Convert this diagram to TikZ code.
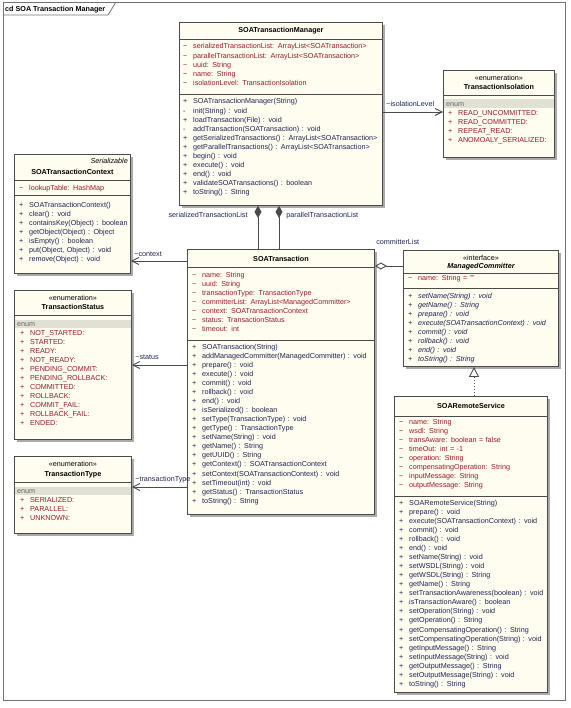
\documentclass[tikz,border=0pt]{standalone}
\usepackage{fontspec}
\setmainfont{Liberation Sans}
\usetikzlibrary{arrows.meta,shadows}
\definecolor{boxfill}{RGB}{255,252,240}
\definecolor{boxline}{RGB}{75,75,75}
\definecolor{attrred}{RGB}{150,28,40}
\definecolor{opblue}{RGB}{28,36,82}
\definecolor{shadowgray}{RGB}{170,170,170}
\definecolor{enumband}{RGB}{224,224,212}
\definecolor{framegray}{RGB}{115,115,115}
\newcommand\atr{\makebox[10pt][l]{\textasciitilde}}
\newcommand\pub{\makebox[10pt][l]{+}}
\newcommand\prv{\makebox[10pt][l]{-}}
\tikzset{
    cls/.style={draw=boxline, fill=boxfill, line width=0.9pt, anchor=north west, inner sep=0pt,
        drop shadow={shadow xshift=2.5pt, shadow yshift=-2.5pt, fill=shadowgray, opacity=1}},
    div/.style={draw=boxline, line width=0.9pt},
    band/.style={fill=enumband},
    frame/.style={draw=framegray, line width=0.8pt},
    mem/.style={anchor=base west, inner sep=0pt, text width=230pt, align=left, font=\fontsize{7.2}{9.05}\selectfont},
    attrs/.style={mem, text=attrred},
    ops/.style={mem, text=opblue},
    iops/.style={ops, font=\fontsize{7.2}{9.05}\selectfont\itshape},
    enm/.style={mem, text=black!60},
    ttl/.style={anchor=base, inner sep=0pt, font=\fontsize{7.2}{9}\selectfont\bfseries},
    ster/.style={anchor=base, inner sep=0pt, font=\fontsize{7.2}{9}\selectfont},
    lbl/.style={inner sep=0pt, font=\fontsize{7.2}{9}\selectfont, text=opblue},
    assoc/.style={draw=boxline, line width=0.9pt, -{Straight Barb[length=7pt,width=7pt]}},
    comp/.style={draw=boxline, line width=0.9pt, -{Diamond[length=12pt,width=7pt,fill=boxline]}},
    aggr/.style={draw=boxline, line width=0.9pt, {Diamond[open,length=12pt,width=7pt]}-},
    real/.style={draw=boxline, line width=0.9pt, dash pattern=on 1pt off 2pt, -{Triangle[open,length=10pt,width=10pt]}}
}
\begin{document}
\begin{tikzpicture}[x=1pt, y=-1pt]
    \useasboundingbox (0,0) rectangle (570,708);
    % frame
    \draw[frame] (3,2) rectangle (565,700);
    \draw[frame] (3,15) -- (108,15) -- (116,2);
    \node[ttl, anchor=base west] (frame-name) at (5,12) {cd SOA Transaction Manager};

    % SOATransactionManager
    \node[cls, minimum width=203pt, minimum height=183pt] (tm) at (179,22) {};
    \node[ttl] (tm-name) at (tm.north |- 0,33) {SOATransactionManager};
    \draw[div] (tm.west |- 0,39) -- (tm.east |- 0,39);
    \node[attrs] (tm-attr) at (183,49) {\atr serializedTransactionList: ArrayList<SOATransaction>\\
        \atr parallelTransactionList: ArrayList<SOATransaction>\\
        \atr uuid: String\\
        \atr name: String\\
        \atr isolationLevel: TransactionIsolation};
    \draw[div] (tm.west |- 0,94) -- (tm.east |- 0,94);
    \node[ops] (tm-ops) at (183,104) {\pub SOATransactionManager(String)\\
        \prv init(String) : void\\
        \pub loadTransaction(File) : void\\
        \prv addTransaction(SOATransaction) : void\\
        \pub getSerializedTransactions() : ArrayList<SOATransaction>\\
        \pub getParallelTransactions() : ArrayList<SOATransaction>\\
        \pub begin() : void\\
        \pub execute() : void\\
        \pub end() : void\\
        \pub validateSOATransactions() : boolean\\
        \pub toString() : String};

    % TransactionIsolation
    \node[cls, minimum width=111pt, minimum height=87pt] (ti) at (443,70) {};
    \node[ster] (ti-ster) at (ti.north |- 0,80.3) {«enumeration»};
    \node[ttl] (ti-name) at (ti.north |- 0,89.5) {TransactionIsolation};
    \draw[div] (ti.west |- 0,95) -- (ti.east |- 0,95);
    \fill[band] (443.5,99) rectangle (553.5,108);
    \node[enm] (ti-enum) at (446,106.3) {enum};
    \node[attrs] (ti-lit) at (448,115.3) {\pub READ\_UNCOMMITTED:\\
        \pub READ\_COMMITTED:\\
        \pub REPEAT\_READ:\\
        \pub ANOMOALY\_SERIALIZED:};

    % SOATransactionContext
    \node[cls, minimum width=116pt, minimum height=119pt] (tc) at (14,154) {};
    \node[ster, anchor=base east, font=\fontsize{7.2}{9}\selectfont\itshape] (tc-ster) at (128,163.3) {Serializable};
    \node[ttl] (tc-name) at (tc.north |- 0,174.5) {SOATransactionContext};
    \draw[div] (tc.west |- 0,180) -- (tc.east |- 0,180);
    \node[attrs] (tc-attr) at (19,190.3) {\atr lookupTable: HashMap};
    \draw[div] (tc.west |- 0,195) -- (tc.east |- 0,195);
    \node[ops] (tc-ops) at (19,207.3) {\pub SOATransactionContext()\\
        \pub clear() : void\\
        \pub containsKey(Object) : boolean\\
        \pub getObject(Object) : Object\\
        \pub isEmpty() : boolean\\
        \pub put(Object, Object) : void\\
        \pub remove(Object) : void};

    % SOATransaction
    \node[cls, minimum width=187pt, minimum height=265pt] (st) at (187,249) {};
    \node[ttl] (st-name) at (st.north |- 0,261.5) {SOATransaction};
    \draw[div] (st.west |- 0,267) -- (st.east |- 0,267);
    \node[attrs] (st-attr) at (192,277.3) {\atr name: String\\
        \atr uuid: String\\
        \atr transactionType: TransactionType\\
        \atr committerList: ArrayList<ManagedCommitter>\\
        \atr context: SOATransactionContext\\
        \atr status: TransactionStatus\\
        \atr timeout: int};
    \draw[div] (st.west |- 0,340) -- (st.east |- 0,340);
    \node[ops] (st-ops) at (192,349.3) {\pub SOATransaction(String)\\
        \pub addManagedCommitter(ManagedCommitter) : void\\
        \pub prepare() : void\\
        \pub execute() : void\\
        \pub commit() : void\\
        \pub rollback() : void\\
        \pub end() : void\\
        \pub isSerialized() : boolean\\
        \pub setType(TransactionType) : void\\
        \pub getType() : TransactionType\\
        \pub setName(String) : void\\
        \pub getName() : String\\
        \pub getUUID() : String\\
        \pub getContext() : SOATransactionContext\\
        \pub setContext(SOATransactionContext) : void\\
        \pub setTimeout(int) : void\\
        \pub getStatus() : TransactionStatus\\
        \pub toString() : String};

    % ManagedCommitter
    \node[cls, minimum width=155pt, minimum height=116pt] (mc) at (403,250) {};
    \node[ster] (mc-ster) at (mc.north |- 0,260) {«interface»};
    \node[ttl, font=\fontsize{7.2}{9}\selectfont\bfseries\itshape] (mc-name) at (mc.north |- 0,269) {ManagedCommitter};
    \draw[div] (mc.west |- 0,273) -- (mc.east |- 0,273);
    \node[attrs] (mc-attr) at (408,280.6) {\atr name: String = ""};
    \draw[div] (mc.west |- 0,288) -- (mc.east |- 0,288);
    \node[iops] (mc-ops) at (408,298.3) {\pub setName(String) : void\\
        \pub getName() : String\\
        \pub prepare() : void\\
        \pub execute(SOATransactionContext) : void\\
        \pub commit() : void\\
        \pub rollback() : void\\
        \pub end() : void\\
        \pub toString() : String};

    % SOARemoteService
    \node[cls, minimum width=153pt, minimum height=296pt] (srs) at (394,396) {};
    \node[ttl] (srs-name) at (srs.north |- 0,408.5) {SOARemoteService};
    \draw[div] (srs.west |- 0,416) -- (srs.east |- 0,416);
    \node[attrs] (srs-attr) at (399,424.3) {\atr name: String\\
        \atr wsdl: String\\
        \atr transAware: boolean = false\\
        \atr timeOut: int = -1\\
        \atr operation: String\\
        \atr compensatingOperation: String\\
        \atr inputMessage: String\\
        \atr outputMessage: String};
    \draw[div] (srs.west |- 0,496) -- (srs.east |- 0,496);
    \node[ops] (srs-ops) at (399,505.3) {\pub SOARemoteService(String)\\
        \pub prepare() : void\\
        \pub execute(SOATransactionContext) : void\\
        \pub commit() : void\\
        \pub rollback() : void\\
        \pub end() : void\\
        \pub setName(String) : void\\
        \pub setWSDL(String) : void\\
        \pub getWSDL(String) : String\\
        \pub getName() : String\\
        \pub setTransactionAwareness(boolean) : void\\
        \pub isTransactionAware() : boolean\\
        \pub setOperation(String) : void\\
        \pub getOperation() : String\\
        \pub getCompensatingOperation() : String\\
        \pub setCompensatingOperation(String) : void\\
        \pub getInputMessage() : String\\
        \pub setInputMessage(String) : void\\
        \pub getOutputMessage() : String\\
        \pub setOutputMessage(String) : void\\
        \pub toString() : String};

    % TransactionStatus
    \node[cls, minimum width=117pt, minimum height=149pt] (ts) at (14,290) {};
    \node[ster] (ts-ster) at (ts.north |- 0,300.5) {«enumeration»};
    \node[ttl] (ts-name) at (ts.north |- 0,309.5) {TransactionStatus};
    \draw[div] (ts.west |- 0,315) -- (ts.east |- 0,315);
    \fill[band] (14.5,320) rectangle (130.5,328);
    \node[enm] (ts-enum) at (17,326) {enum};
    \node[attrs] (ts-lit) at (20,335.3) {\pub NOT\_STARTED:\\
        \pub STARTED:\\
        \pub READY:\\
        \pub NOT\_READY:\\
        \pub PENDING\_COMMIT:\\
        \pub PENDING\_ROLLBACK:\\
        \pub COMMITTED:\\
        \pub ROLLBACK:\\
        \pub COMMIT\_FAIL:\\
        \pub ROLLBACK\_FAIL:\\
        \pub ENDED:};

    % TransactionType
    \node[cls, minimum width=117pt, minimum height=77pt] (tt) at (14,456) {};
    \node[ster] (tt-ster) at (tt.north |- 0,466.5) {«enumeration»};
    \node[ttl] (tt-name) at (tt.north |- 0,476) {TransactionType};
    \draw[div] (tt.west |- 0,482) -- (tt.east |- 0,482);
    \fill[band] (14.5,487) rectangle (130.5,495);
    \node[enm] (tt-enum) at (17,493.3) {enum};
    \node[attrs] (tt-lit) at (20,502.3) {\pub SERIALIZED:\\
        \pub PARALLEL:\\
        \pub UNKNOWN:};

    % connectors
    \draw[assoc] (tm.east |- 0,112) -- node[lbl, pos=0, anchor=base west, xshift=3pt, yshift=5pt] (lbl-iso) {\textasciitilde isolationLevel} (ti.west |- 0,112);
    \draw[assoc] (st.west |- 0,261) -- node[lbl, pos=1, anchor=base west, xshift=3pt, yshift=5pt] (lbl-ctx) {\textasciitilde context} (tc.east |- 0,261);
    \draw[assoc] (st.west |- 0,365) -- node[lbl, pos=1, anchor=base west, xshift=3pt, yshift=5.5pt] (lbl-sta) {\textasciitilde status} (ts.east |- 0,365);
    \draw[assoc] (st.west |- 0,487) -- node[lbl, pos=1, anchor=base west, xshift=3pt, yshift=6pt] (lbl-typ) {\textasciitilde transactionType} (tt.east |- 0,487);
    \draw[comp] (st.north -| 258,0) -- node[lbl, pos=1, anchor=base east, xshift=-10pt, yshift=-11.5pt] (lbl-ser) {serializedTransactionList} (tm.south -| 258,0);
    \draw[comp] (st.north -| 279,0) -- node[lbl, pos=1, anchor=base west, xshift=7pt, yshift=-11.5pt] (lbl-par) {parallelTransactionList} (tm.south -| 279,0);
    \draw[aggr] (st.east |- 0,266) -- node[lbl, pos=0, anchor=base west, xshift=1pt, yshift=21.5pt] (lbl-com) {committerList} (mc.west |- 0,266);
    \draw[real] (srs.north -| 474,0) -- (mc.south -| 474,0);
\end{tikzpicture}
\end{document}
